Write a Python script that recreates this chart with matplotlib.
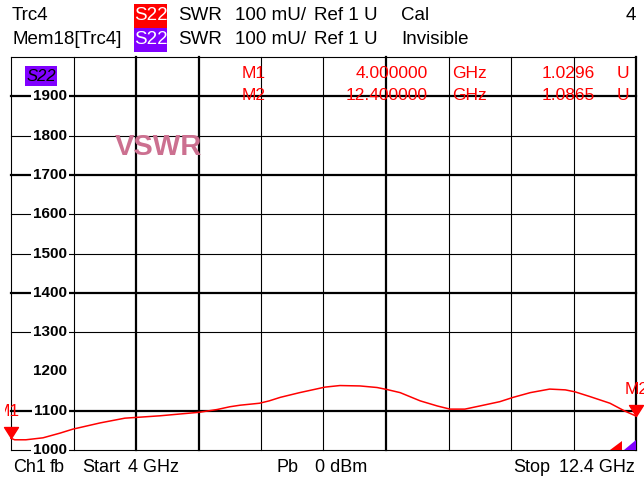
import numpy as np
import matplotlib
matplotlib.use("Agg")
import matplotlib.pyplot as plt
from matplotlib.transforms import blended_transform_factory, Bbox, TransformedBbox
from matplotlib.path import Path
from matplotlib.patches import Rectangle, Polygon

# ---------------- data ----------------
freq_ghz = [4.00, 4.05, 4.20, 4.43, 4.66, 4.83, 5.20, 5.53, 5.69, 6.00, 6.53, 6.77,
            6.94, 7.08, 7.34, 7.47, 7.62, 7.75, 7.88, 8.22, 8.42, 8.69, 8.92, 9.05,
            9.23, 9.50, 9.73, 9.90, 10.10, 10.30, 10.57, 10.75, 10.98, 11.24, 11.45,
            11.58, 11.78, 12.05, 12.25, 12.40]
swr_mu = [1029.6, 1026, 1026, 1031, 1043, 1053, 1069, 1081, 1083, 1087, 1096, 1103,
          1110, 1114, 1119, 1125, 1134, 1140, 1146, 1160, 1164, 1163, 1159, 1154,
          1146, 1125, 1112, 1104, 1104, 1112, 1123, 1134, 1146, 1155, 1153,
          1148, 1136, 1119, 1099, 1086.5]
y_ticks = [1900, 1800, 1700, 1600, 1500, 1400, 1300, 1200, 1100, 1000]
y_tick_labels = ["1900", "1800", "1700", "1600", "1500", "1400", "1300", "1200", "1100", "1000"]
marker_names = ["M1", "M2"]
marker_freq = [4.0, 12.4]
marker_val = [1029.6, 1086.5]
marker_freq_text = ["4.000000", "12.400000"]
marker_val_text = ["1.0296", "1.0865"]

W, H = 644, 479
plt.rcParams['font.family'] = ['Liberation Sans', 'DejaVu Sans']
fig = plt.figure(figsize=(W / 100, H / 100), dpi=100)
fig.patch.set_facecolor('white')

L, R, T, B = 11, 636, 57, 450
ax = fig.add_axes([L / W, 1 - B / H, (R - L) / W, (B - T) / H])
ax.set_xlim(4.0, 12.4)
ax.set_ylim(1000, 2000)
ax.set_axis_off()

def px(x, y):
    return x / W, 1 - y / H

thin, thick = 0.8, 1.6
# vertical grid
vx = np.linspace(4.0, 12.4, 11)
for i, x in enumerate(vx):
    lw = thick if i in (2, 3, 6, 10) else thin
    ax.axvline(x, color='black', lw=lw, zorder=1, clip_on=False)
# horizontal grid
for lev in range(1000, 2001, 100):
    if lev == 1200:
        continue
    lw = thick if lev in (1100, 1400, 1700, 1900) else thin
    ax.axhline(lev, color='black', lw=lw, zorder=1, clip_on=False)

# y tick labels with white background
bt = blended_transform_factory(ax.transAxes, ax.transData)
xlab = (67 - L) / (R - L)
for v, s in zip(y_ticks, y_tick_labels):
    ax.text(xlab, v, s, transform=bt, ha='right', va='center', fontsize=11,
            fontweight='bold', color='black', zorder=2,
            bbox=dict(boxstyle='square,pad=0.12', fc='white', ec='none'))

# trace
ax.plot(freq_ghz, swr_mu, color='#ff0000', lw=1.1, zorder=4, clip_on=False)

# markers
tri = Path([(-7, 11), (7, 11), (0, 0), (-7, 11)],
           [Path.MOVETO, Path.LINETO, Path.LINETO, Path.CLOSEPOLY])
ax.plot(marker_freq, marker_val, linestyle='none', marker=tri, markersize=15.8,
        color='#ff0000', zorder=5, clip_on=False)
t1 = fig.text(*px(8, 412), marker_names[0], ha='center', va='center', fontsize=12.5,
              color='#ff0000')
t1.set_clip_box(TransformedBbox(Bbox([[5 / W, 0], [1, 1]]), fig.transFigure))
t1.set_clip_on(True)
fig.text(*px(637, 390), marker_names[1], ha='center', va='center', fontsize=12.5,
         color='#ff0000')

# off-screen indicators bottom-right
def pxpoly(pts, color):
    fig.add_artist(Polygon([px(x, y) for x, y in pts], closed=True, fc=color, ec='none',
                           transform=fig.transFigure, zorder=6))
pxpoly([(610, 450), (622, 450), (622, 441)], '#ff0000')
pxpoly([(624, 450), (636, 450), (636, 440)], '#8000ff')

# in-plot S22 box
fig.add_artist(Rectangle(px(25, 86), 32 / W, 20 / H, transform=fig.transFigure,
                         fc='#8000ff', ec='none', zorder=6))
fig.text(*px(41, 76), "S22", ha='center', va='center', fontsize=12, color='black',
         fontstyle='italic', zorder=7)

# VSWR title
fig.text(*px(115, 147), "VSWR", ha='left', va='center', fontsize=21, fontweight='bold',
         color='#cc7090')

# marker table
mcol = '#ff0000'
for i, yy in enumerate([73, 95]):
    fig.text(*px(242, yy), marker_names[i], ha='left', va='center', fontsize=12.5, color=mcol)
    fig.text(*px(428, yy), marker_freq_text[i], ha='right', va='center', fontsize=12.5, color=mcol)
    fig.text(*px(452, yy), "GHz", ha='left', va='center', fontsize=12.5, color=mcol)
    fig.text(*px(595, yy), marker_val_text[i], ha='right', va='center', fontsize=12.5, color=mcol)
    fig.text(*px(617, yy), "U", ha='left', va='center', fontsize=12.5, color=mcol)

# header
hs = 13.5
rows = [(16, "Trc4", '#ff0000', 'white', "Cal"), (40, "Mem18[Trc4]", '#8000ff', 'white', "Invisible")]
box_tops = [4, 28]
for (yy, name, bc, tc, status), bt_ in zip(rows, box_tops):
    fig.text(*px(12, yy), name, ha='left', va='center', fontsize=hs)
    fig.add_artist(Rectangle(px(134, bt_ + 24), 33 / W, 24 / H, transform=fig.transFigure,
                             fc=bc, ec='none'))
    fig.text(*px(150.5, yy), "S22", ha='center', va='center', fontsize=hs, color=tc)
    fig.text(*px(178, yy), "SWR", ha='left', va='center', fontsize=hs)
    fig.text(*px(235, yy), "100 mU/", ha='left', va='center', fontsize=hs)
    fig.text(*px(314, yy), "Ref 1 U", ha='left', va='center', fontsize=hs)
    fig.text(*px(401, yy), status, ha='left', va='center', fontsize=hs)
fig.text(*px(636, 16), "4", ha='right', va='center', fontsize=hs)

# footer
fy = 468
fs = 13
fig.text(*px(13, fy), "Ch1", ha='left', va='center', fontsize=fs)
fig.text(*px(50, fy), "fb", ha='left', va='center', fontsize=fs)
fig.text(*px(82, fy), "Start", ha='left', va='center', fontsize=fs)
fig.text(*px(128, fy), "4 GHz", ha='left', va='center', fontsize=fs)
fig.text(*px(277, fy), "Pb", ha='left', va='center', fontsize=fs)
fig.text(*px(315, fy), "0 dBm", ha='left', va='center', fontsize=fs)
fig.text(*px(513, fy), "Stop", ha='left', va='center', fontsize=fs)
fig.text(*px(635, fy), "12.4 GHz", ha='right', va='center', fontsize=fs)

fig.savefig("out.png", dpi=100, facecolor='white')
